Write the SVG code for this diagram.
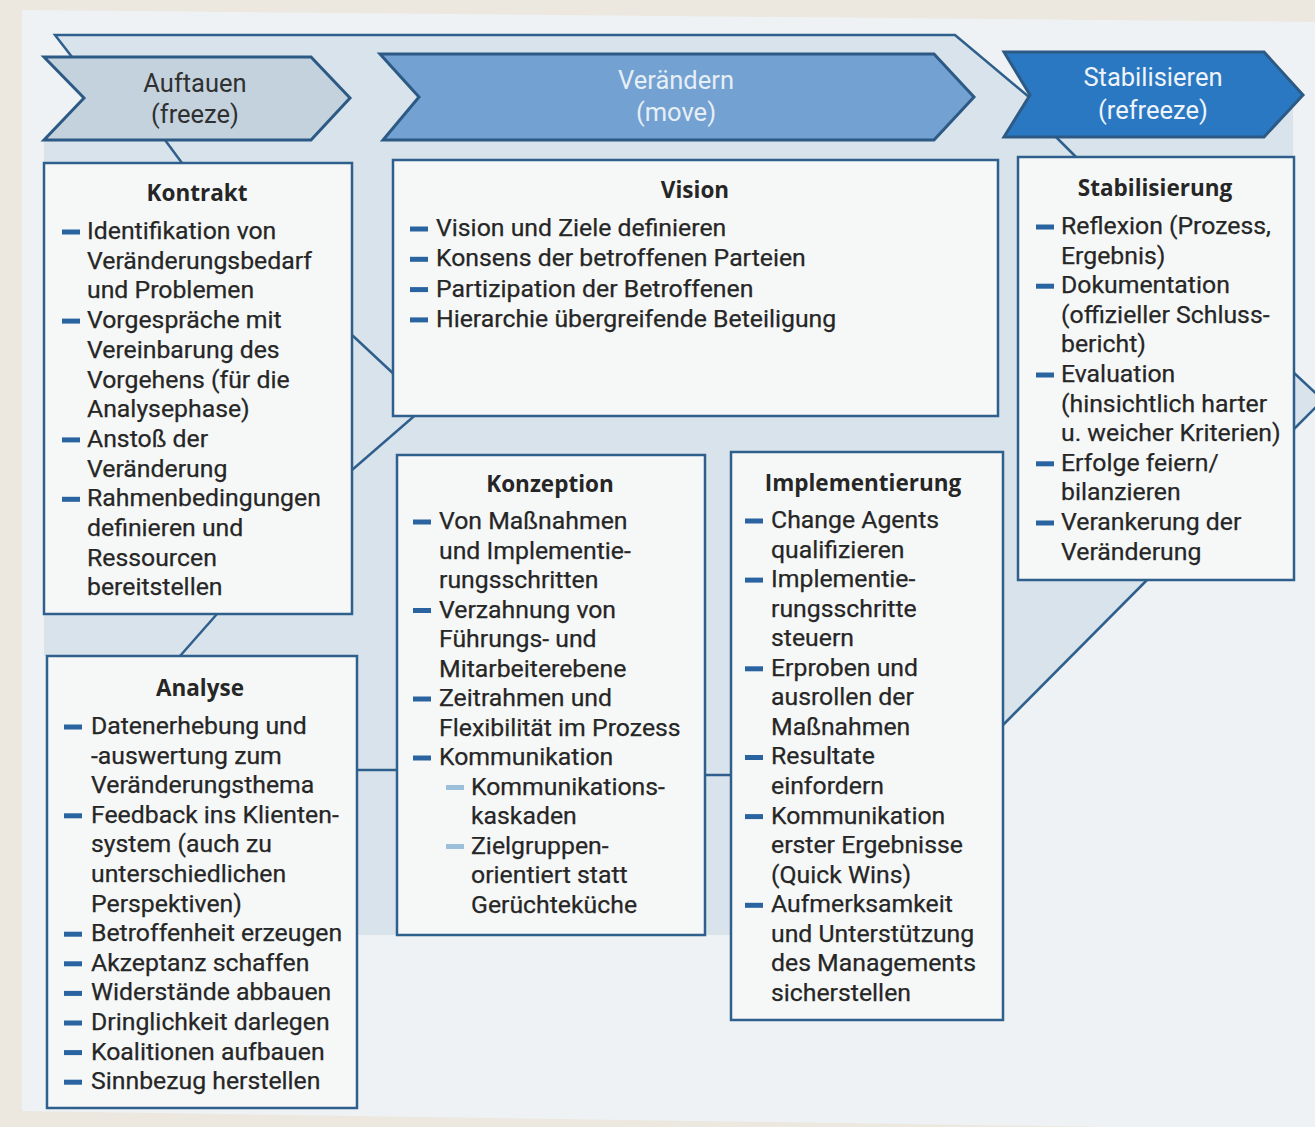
<svg xmlns="http://www.w3.org/2000/svg" width="1315" height="1127" viewBox="0 0 1315 1127">
<style>
.t{font-family:Roboto,"Open Sans","DejaVu Sans",sans-serif;font-size:24.8px;fill:#262626;stroke:#262626;stroke-width:0.25}
.h{font-family:"Open Sans","Noto Sans","DejaVu Sans",sans-serif;font-size:22.5px;font-weight:bold;fill:#262626;text-anchor:middle}
.c{font-family:Roboto,"Open Sans","DejaVu Sans",sans-serif;font-size:25.5px;text-anchor:middle}
.box{fill:#f6f8f8;stroke:#2f5f8c;stroke-width:2.5}
.d{fill:#2a64a0}
.dl{fill:#9cc0dc}
.ln{fill:none;stroke:#2f5f8c;stroke-width:2.5}
.chev{stroke:#2c5a85;stroke-width:3;stroke-linejoin:miter}
</style>
<rect width="1315" height="1127" fill="#ece8e0"/>
<polygon points="22,10 1315,22 1315,1130 22,1111" fill="#eef2f4"/>
<path d="M55,35 L955,35 L1029,97 L1004,52 L1264,52 L1293,84 L1293,372 L1323,400 L1293,430 L1293,580 L1147,580 L1000,728 L731,935 L357,935 L357,656 L44,656 L44,140 L84,97 L72,57 Z" fill="#d9e3eb"/>
<g id="connectors">
<polyline class="ln" points="72,57 55,35 955,35 1029,97"/>
<line class="ln" x1="165" y1="140" x2="182" y2="163"/>
<line class="ln" x1="1056" y1="137" x2="1077" y2="158"/>
<polyline class="ln" points="352,335 427,405 352,470"/>
<line class="ln" x1="217" y1="614" x2="180" y2="656"/>
<line class="ln" x1="357" y1="770" x2="397" y2="770"/>
<line class="ln" x1="705" y1="775" x2="731" y2="775"/>
<line class="ln" x1="1000" y1="728" x2="1147" y2="580"/>
<polyline class="ln" points="1293,372 1323,400 1293,430"/>
</g>
<g id="auftauen">
<polygon class="chev" points="44,57 311,57 350,98 311,140 44,140 84,98" fill="#c4d2de"/>
<text class="c" x="195" y="92" fill="#303030">Auftauen</text>
<text class="c" x="195" y="123" fill="#303030">(freeze)</text>
</g>
<g id="veraendern">
<polygon class="chev" points="380,54 934,54 974,97 934,140 383,140 419,97" fill="#73a1d1"/>
<text class="c" x="676" y="89" fill="#e6eef6">Verändern</text>
<text class="c" x="676" y="121" fill="#e6eef6">(move)</text>
</g>
<g id="stabilisieren">
<polygon class="chev" points="1004,52 1264,52 1303,95 1264,137 1004,137 1030,95" fill="#2b78c2"/>
<text class="c" x="1153" y="86" fill="#eef4fa">Stabilisieren</text>
<text class="c" x="1153" y="119" fill="#eef4fa">(refreeze)</text>
</g>
<g id="kontrakt">
<rect class="box" x="44" y="163" width="308" height="451"/>
<text class="h" x="197" y="201">Kontrakt</text>
<rect class="d" x="62" y="229.5" width="18" height="5"/>
<rect class="d" x="62" y="318.6" width="18" height="5"/>
<rect class="d" x="62" y="437.4" width="18" height="5"/>
<rect class="d" x="62" y="496.8" width="18" height="5"/>
<text class="t" x="87" y="239"><tspan x="87" dy="0">Identifikation von</tspan><tspan x="87" dy="29.7">Veränderungsbedarf</tspan><tspan x="87" dy="29.7">und Problemen</tspan><tspan x="87" dy="29.7">Vorgespräche mit</tspan><tspan x="87" dy="29.7">Vereinbarung des</tspan><tspan x="87" dy="29.7">Vorgehens (für die</tspan><tspan x="87" dy="29.7">Analysephase)</tspan><tspan x="87" dy="29.7">Anstoß der</tspan><tspan x="87" dy="29.7">Veränderung</tspan><tspan x="87" dy="29.7">Rahmenbedingungen</tspan><tspan x="87" dy="29.7">definieren und</tspan><tspan x="87" dy="29.7">Ressourcen</tspan><tspan x="87" dy="29.7">bereitstellen</tspan></text>
</g>
<g id="analyse">
<rect class="box" x="47" y="656" width="310" height="452"/>
<text class="h" x="200" y="696">Analyse</text>
<rect class="d" x="64" y="724.5" width="18" height="5"/>
<rect class="d" x="64" y="813.3" width="18" height="5"/>
<rect class="d" x="64" y="931.7" width="18" height="5"/>
<rect class="d" x="64" y="961.3" width="18" height="5"/>
<rect class="d" x="64" y="990.9" width="18" height="5"/>
<rect class="d" x="64" y="1020.5" width="18" height="5"/>
<rect class="d" x="64" y="1050.1" width="18" height="5"/>
<rect class="d" x="64" y="1079.7" width="18" height="5"/>
<text class="t" x="91" y="734"><tspan x="91" dy="0">Datenerhebung und</tspan><tspan x="91" dy="29.6">-auswertung zum</tspan><tspan x="91" dy="29.6">Veränderungsthema</tspan><tspan x="91" dy="29.6">Feedback ins Klienten-</tspan><tspan x="91" dy="29.6">system (auch zu</tspan><tspan x="91" dy="29.6">unterschiedlichen</tspan><tspan x="91" dy="29.6">Perspektiven)</tspan><tspan x="91" dy="29.6">Betroffenheit erzeugen</tspan><tspan x="91" dy="29.6">Akzeptanz schaffen</tspan><tspan x="91" dy="29.6">Widerstände abbauen</tspan><tspan x="91" dy="29.6">Dringlichkeit darlegen</tspan><tspan x="91" dy="29.6">Koalitionen aufbauen</tspan><tspan x="91" dy="29.6">Sinnbezug herstellen</tspan></text>
</g>
<g id="vision">
<rect class="box" x="393" y="160" width="605" height="256"/>
<text class="h" x="695" y="198">Vision</text>
<rect class="d" x="410" y="226.5" width="18" height="5"/>
<rect class="d" x="410" y="256.8" width="18" height="5"/>
<rect class="d" x="410" y="287.1" width="18" height="5"/>
<rect class="d" x="410" y="317.4" width="18" height="5"/>
<text class="t" x="436" y="236"><tspan x="436" dy="0">Vision und Ziele definieren</tspan><tspan x="436" dy="30.3">Konsens der betroffenen Parteien</tspan><tspan x="436" dy="30.3">Partizipation der Betroffenen</tspan><tspan x="436" dy="30.3">Hierarchie übergreifende Beteiligung</tspan></text>
</g>
<g id="konzeption">
<rect class="box" x="397" y="455" width="308" height="480"/>
<text class="h" x="550" y="492">Konzeption</text>
<rect class="d" x="413" y="519.5" width="18" height="5"/>
<rect class="d" x="413" y="608" width="18" height="5"/>
<rect class="d" x="413" y="696.5" width="18" height="5"/>
<rect class="d" x="413" y="755.5" width="18" height="5"/>
<rect class="dl" x="446" y="785" width="18" height="5"/>
<rect class="dl" x="446" y="844" width="18" height="5"/>
<text class="t" x="439" y="529"><tspan x="439" dy="0">Von Maßnahmen</tspan><tspan x="439" dy="29.5">und Implementie-</tspan><tspan x="439" dy="29.5">rungsschritten</tspan><tspan x="439" dy="29.5">Verzahnung von</tspan><tspan x="439" dy="29.5">Führungs- und</tspan><tspan x="439" dy="29.5">Mitarbeiterebene</tspan><tspan x="439" dy="29.5">Zeitrahmen und</tspan><tspan x="439" dy="29.5">Flexibilität im Prozess</tspan><tspan x="439" dy="29.5">Kommunikation</tspan><tspan x="471" dy="29.5">Kommunikations-</tspan><tspan x="471" dy="29.5">kaskaden</tspan><tspan x="471" dy="29.5">Zielgruppen-</tspan><tspan x="471" dy="29.5">orientiert statt</tspan><tspan x="471" dy="29.5">Gerüchteküche</tspan></text>
</g>
<g id="implementierung">
<rect class="box" x="731" y="452" width="272" height="568"/>
<text class="h" x="863" y="491">Implementierung</text>
<rect class="d" x="745" y="518.5" width="18" height="5"/>
<rect class="d" x="745" y="577.6" width="18" height="5"/>
<rect class="d" x="745" y="666.3" width="18" height="5"/>
<rect class="d" x="745" y="755" width="18" height="5"/>
<rect class="d" x="745" y="814.1" width="18" height="5"/>
<rect class="d" x="745" y="902.8" width="18" height="5"/>
<text class="t" x="771" y="528"><tspan x="771" dy="0">Change Agents</tspan><tspan x="771" dy="29.56">qualifizieren</tspan><tspan x="771" dy="29.56">Implementie-</tspan><tspan x="771" dy="29.56">rungsschritte</tspan><tspan x="771" dy="29.56">steuern</tspan><tspan x="771" dy="29.56">Erproben und</tspan><tspan x="771" dy="29.56">ausrollen der</tspan><tspan x="771" dy="29.56">Maßnahmen</tspan><tspan x="771" dy="29.56">Resultate</tspan><tspan x="771" dy="29.56">einfordern</tspan><tspan x="771" dy="29.56">Kommunikation</tspan><tspan x="771" dy="29.56">erster Ergebnisse</tspan><tspan x="771" dy="29.56">(Quick Wins)</tspan><tspan x="771" dy="29.56">Aufmerksamkeit</tspan><tspan x="771" dy="29.56">und Unterstützung</tspan><tspan x="771" dy="29.56">des Managements</tspan><tspan x="771" dy="29.56">sicherstellen</tspan></text>
</g>
<g id="stabilisierung">
<rect class="box" x="1018" y="157" width="276" height="423"/>
<text class="h" x="1155" y="196">Stabilisierung</text>
<rect class="d" x="1036" y="224.5" width="18" height="5"/>
<rect class="d" x="1036" y="283.7" width="18" height="5"/>
<rect class="d" x="1036" y="372.5" width="18" height="5"/>
<rect class="d" x="1036" y="461.3" width="18" height="5"/>
<rect class="d" x="1036" y="520.5" width="18" height="5"/>
<text class="t" x="1061" y="234"><tspan x="1061" dy="0">Reflexion (Prozess,</tspan><tspan x="1061" dy="29.6">Ergebnis)</tspan><tspan x="1061" dy="29.6">Dokumentation</tspan><tspan x="1061" dy="29.6">(offizieller Schluss-</tspan><tspan x="1061" dy="29.6">bericht)</tspan><tspan x="1061" dy="29.6">Evaluation</tspan><tspan x="1061" dy="29.6">(hinsichtlich harter</tspan><tspan x="1061" dy="29.6">u. weicher Kriterien)</tspan><tspan x="1061" dy="29.6">Erfolge feiern/</tspan><tspan x="1061" dy="29.6">bilanzieren</tspan><tspan x="1061" dy="29.6">Verankerung der</tspan><tspan x="1061" dy="29.6">Veränderung</tspan></text>
</g>
</svg>
